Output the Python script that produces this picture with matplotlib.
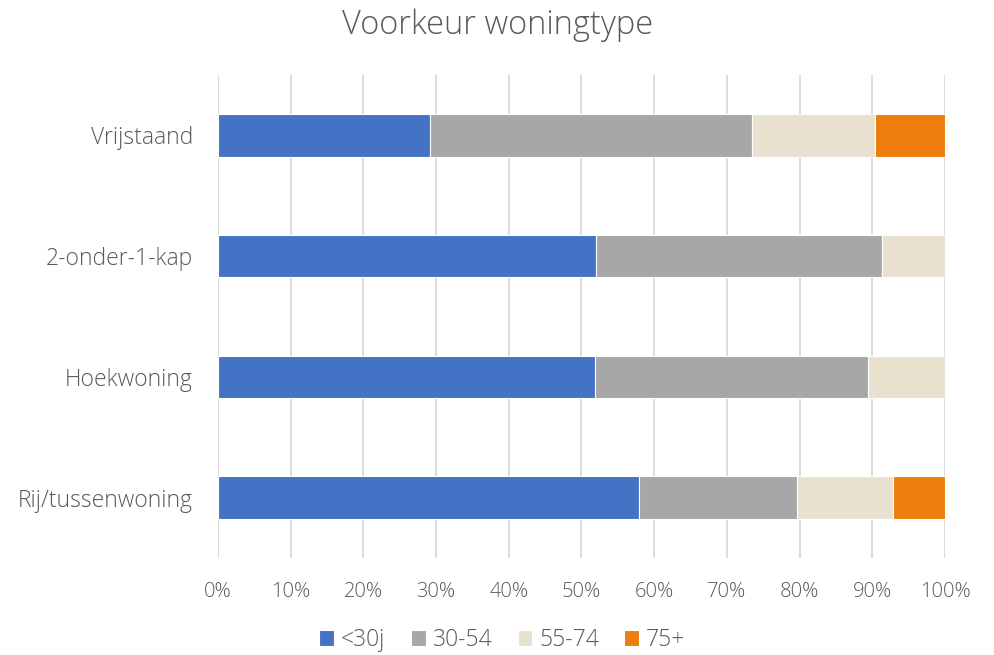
import matplotlib
matplotlib.use("Agg")
import matplotlib.pyplot as plt
import numpy as np

plt.rcParams['font.family'] = ['Open Sans', 'DejaVu Sans']

categories = ["Vrijstaand", "2-onder-1-kap", "Hoekwoning", "Rij/tussenwoning"]
series_names = ["<30j", "30-54", "55-74", "75+"]
values = {
    "<30j":  [29.2, 52.0, 51.9, 57.9],
    "30-54": [44.3, 39.3, 37.5, 21.7],
    "55-74": [16.9, 8.7, 10.6, 13.3],
    "75+":   [9.6, 0.0, 0.0, 7.1],
}
colors = ["#4472C4", "#A7A7A7", "#E9E1D0", "#ED7D0C"]
tick_vals = np.arange(0, 101, 10)
tick_labels = [f"{v}%" for v in tick_vals]

text_color = "#595959"
fig = plt.figure(figsize=(9.95, 6.55), dpi=100)
ax = fig.add_axes([218/995, 1-558/655, (945-218)/995, (558-75)/655])

y = np.arange(len(categories))
left = np.zeros(len(categories))
for name, c in zip(series_names, colors):
    v = np.array(values[name])
    ax.barh(y, v, left=left, height=0.35, color=c, edgecolor="white", linewidth=0.8,
            label=name, zorder=3)
    left += v

ax.set_ylim(3.5, -0.5)
ax.set_xlim(0, 100)
ax.set_xticks(tick_vals)
ax.set_xticklabels(tick_labels, fontsize=14.5, color=text_color, fontweight='light')
ax.set_yticks(y)
ax.set_yticklabels(categories, fontsize=16.5, color=text_color, fontweight='light')
ax.tick_params(axis='both', length=0)
ax.tick_params(axis='x', pad=17)
ax.tick_params(axis='y', pad=18)
ax.grid(axis='x', color="#D9D9D9", linewidth=1.3, zorder=0)
for s in ax.spines.values():
    s.set_visible(False)

fig.text(0.5, 1-25/655, "Voorkeur woningtype", ha='center', va='center', fontsize=23.5,
         color=text_color, fontweight='light')

leg = fig.legend(loc='center', bbox_to_anchor=(0.505, 1-640/655), ncol=4, frameon=False,
                 prop={'size': 16.5, 'weight': 'light'}, handlelength=0.65, handleheight=0.65,
                 handletextpad=0.3, columnspacing=1.1, borderpad=0)
for t in leg.get_texts():
    t.set_color(text_color)

fig.savefig("out.png", dpi=100)
